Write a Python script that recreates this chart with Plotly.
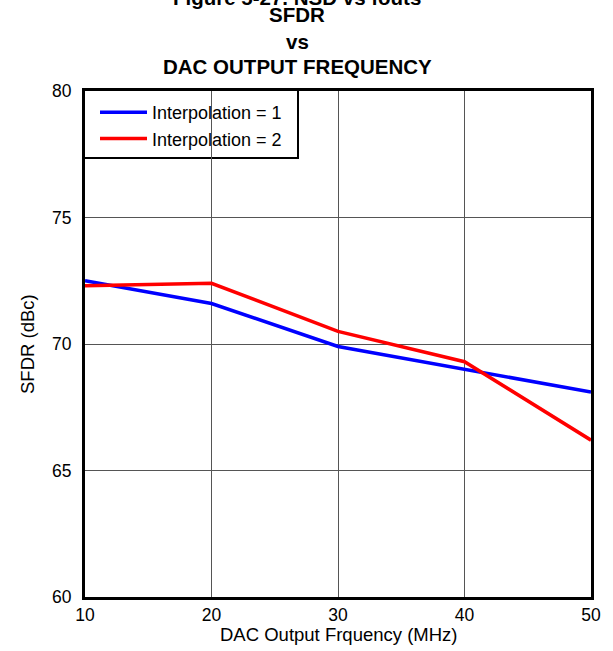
import plotly.graph_objects as go

freq = [10, 20, 30, 40, 50]
sfdr_interp1 = [72.5, 71.6, 69.9, 69.0, 68.1]
sfdr_interp2 = [72.3, 72.4, 70.5, 69.3, 66.2]
series_names = ["Interpolation = 1", "Interpolation = 2"]
x_ticks = [10, 20, 30, 40, 50]
y_ticks = [60, 65, 70, 75, 80]

FONT = "Liberation Sans, Arial, sans-serif"

W, H = 613, 651
L, R, T, B = 85, 22, 91, 54
ph = H - T - B
pw = W - L - R

def px(xpage):
    return (xpage - L) / pw

def py(ypage):
    return 1 + (T - ypage) / ph

fig = go.Figure()
fig.add_trace(go.Scatter(x=freq, y=sfdr_interp1, mode="lines", name=series_names[0],
                         line=dict(color="#0000ff", width=3.5)))
fig.add_trace(go.Scatter(x=freq, y=sfdr_interp2, mode="lines", name=series_names[1],
                         line=dict(color="#ff0000", width=3.5)))

titles = [
    ("Figure 5-27. NSD vs fouts", -2),
    ("SFDR", 15),
    ("vs", 42),
    ("DAC OUTPUT FREQUENCY", 66),
]
for txt, ypage in titles:
    fig.add_annotation(text="<b>%s</b>" % txt, xref="paper", yref="paper",
                       x=px(297), y=py(ypage), xanchor="center", yanchor="middle",
                       showarrow=False, font=dict(family=FONT, size=20.5, color="black"))

# axis titles
fig.add_annotation(text="DAC Output Frquency (MHz)", xref="paper", yref="paper",
                   x=px(338), y=py(634), xanchor="center", yanchor="middle",
                   showarrow=False, font=dict(family=FONT, size=18.5, color="black"))
fig.add_annotation(text="SFDR (dBc)", xref="paper", yref="paper", textangle=-90,
                   x=px(27), y=py(344), xanchor="center", yanchor="middle",
                   showarrow=False, font=dict(family=FONT, size=18.5, color="black"))

# legend frame
fig.add_shape(type="rect", xref="paper", yref="paper",
              x0=px(84), x1=px(298), y0=py(158), y1=py(90),
              line=dict(color="black", width=2), fillcolor="white", layer="between")

fig.update_layout(
    width=W, height=H,
    margin=dict(l=L, r=R, t=T, b=B, autoexpand=False),
    paper_bgcolor="white", plot_bgcolor="white",
    font=dict(family=FONT, color="black"),
    showlegend=True,
    legend=dict(x=px(95), y=py(94), xanchor="left", yanchor="top",
                borderwidth=0, bgcolor="rgba(0,0,0,0)",
                font=dict(family=FONT, size=18, color="black"),
                tracegroupgap=0, itemwidth=47),
)
fig.update_xaxes(range=[10, 50], tickvals=x_ticks, showgrid=True, gridcolor="#555555", gridwidth=1,
                 showline=True, linecolor="black", linewidth=3, mirror=True,
                 ticks="", tickfont=dict(size=17.5, family=FONT),
                 zeroline=False, automargin=False)
fig.update_yaxes(range=[60, 80], tickvals=y_ticks, showgrid=True, gridcolor="#555555", gridwidth=1,
                 showline=True, linecolor="black", linewidth=3, mirror=True,
                 ticks="outside", ticklen=7, tickcolor="rgba(0,0,0,0)",
                 tickfont=dict(size=17.5, family=FONT),
                 zeroline=False, automargin=False)

fig.write_html("out.html", config={"displayModeBar": False},
               post_script="document.body.style.margin='0';document.body.style.overflow='hidden';")
